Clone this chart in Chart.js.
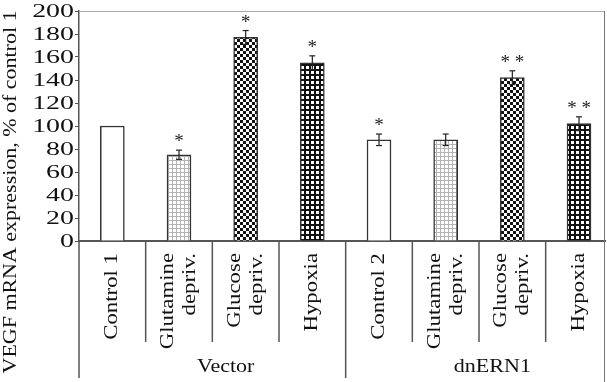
<!DOCTYPE html>
<html>
<head>
<meta charset="utf-8">
<script src="https://cdn.jsdelivr.net/npm/chart.js@4.4.0/dist/chart.umd.min.js"></script>
<style>
    html, body { margin: 0; padding: 0; background: #fff; overflow: hidden; }
    #wrap { width: 607px; height: 382px; }
</style>
</head>
<body>
<div id="wrap"><canvas id="vegfChart"></canvas></div>
<script>
const categories = [["Control 1"], ["Glutamine", "depriv."], ["Glucose", "depriv."], ["Hypoxia"],
                    ["Control 2"], ["Glutamine", "depriv."], ["Glucose", "depriv."], ["Hypoxia"]];
const groups = ["Vector", "dnERN1"];
const vegfValues = [100, 75, 177, 155, 88, 88, 142, 102];
const vegfErrors = [0, 4, 6, 6, 5, 5, 6, 6];
const significance = ["", "*", "*", "*", "*", "", "* *", "* *"];
const yTitle = "VEGF mRNA expression, % of control 1";

const serif = '"Liberation Serif", "Times New Roman", serif';
const fills = ["open", "grid", "checker", "dots"];

function makePattern(ctx, kind) {
    if (kind === "open") return "#ffffff";
    const c = document.createElement("canvas");
    const p = c.getContext("2d");
    if (kind === "grid") {
        c.width = c.height = 4;
        p.fillStyle = "#fff"; p.fillRect(0, 0, 4, 4);
        p.fillStyle = "#b4b4b4"; p.fillRect(0, 0, 4, 1); p.fillRect(0, 0, 1, 4);
    } else if (kind === "checker") {
        c.width = c.height = 6;
        p.fillStyle = "#fff"; p.fillRect(0, 0, 6, 6);
        p.fillStyle = "#111"; p.fillRect(0, 0, 3, 3); p.fillRect(3, 3, 3, 3);
    } else {
        c.width = c.height = 5;
        p.fillStyle = "#111"; p.fillRect(0, 0, 5, 5);
        p.fillStyle = "#fff"; p.fillRect(1, 1, 3, 3);
    }
    return ctx.createPattern(c, "repeat");
}

// text in the figure is wider than plain Times, so stretch it along its run
function stretchedText(ctx, text, x, y, stretch, upright) {
    ctx.save();
    ctx.translate(x, y);
    if (upright) ctx.rotate(-Math.PI / 2);
    ctx.scale(stretch, 1);
    ctx.fillText(text, 0, 0);
    ctx.restore();
}

function line(ctx, x1, y1, x2, y2) {
    ctx.beginPath(); ctx.moveTo(x1, y1); ctx.lineTo(x2, y2); ctx.stroke();
}

const figurePlugin = {
    id: "figure",
    afterDatasetsDraw(chart) {
        const { ctx } = chart;
        const y = chart.scales.y;
        const bars = chart.getDatasetMeta(0).data;
        ctx.save();
        ctx.strokeStyle = "#222";
        ctx.fillStyle = "#222";
        ctx.lineWidth = 1.2;
        bars.forEach((bar, i) => {
            const err = vegfErrors[i];
            const top = y.getPixelForValue(vegfValues[i] + err);
            if (err > 0) {
                const bottom = y.getPixelForValue(vegfValues[i] - err);
                line(ctx, bar.x, top, bar.x, bottom);
                line(ctx, bar.x - 3, top, bar.x + 3, top);
                line(ctx, bar.x - 3, bottom, bar.x + 3, bottom);
            }
            if (significance[i]) {
                ctx.font = "19px " + serif;
                ctx.textAlign = "center";
                ctx.textBaseline = "alphabetic";
                ctx.fillText(significance[i], bar.x, top - 3);
            }
        });
        ctx.restore();
    },
    afterDraw(chart) {
        const { ctx, chartArea: a } = chart;
        const x = chart.scales.x, y = chart.scales.y;
        ctx.save();

        // frame
        ctx.strokeStyle = "#aaa"; ctx.lineWidth = 1;
        line(ctx, a.left, a.top + 0.5, a.right, a.top + 0.5);
        ctx.strokeStyle = "#777";
        line(ctx, a.right - 0.5, a.top, a.right - 0.5, 382);
        ctx.strokeStyle = "#555"; ctx.lineWidth = 1.5;
        line(ctx, a.left, a.bottom, a.left, 378);
        for (let i = 0; i < categories.length - 1; i++) {
            const px = x.getPixelForValue(i + 0.5);
            line(ctx, px, a.bottom, px, i === 3 ? 378 : 342);
        }

        ctx.fillStyle = "#111";

        // y tick labels
        ctx.font = "18px " + serif;
        ctx.textAlign = "right";
        ctx.textBaseline = "middle";
        y.ticks.forEach(t => stretchedText(ctx, String(t.value), 74, y.getPixelForValue(t.value) + 1, 1.55, false));

        // y title
        ctx.textAlign = "center";
        stretchedText(ctx, yTitle, 11, 192, 1.22, true);

        // category labels, reading upward
        ctx.font = "19px " + serif;
        ctx.textAlign = "right";
        categories.forEach((lines, i) => {
            const cx = x.getPixelForValue(i);
            lines.forEach((txt, k) => {
                const off = lines.length === 1 ? 0 : (k === 0 ? -11 : 11);
                stretchedText(ctx, txt, cx + off, 253, 1.2, true);
            });
        });

        // group labels
        ctx.textAlign = "center";
        groups.forEach((g, k) => {
            stretchedText(ctx, g, x.getPixelForValue(k * 4 + 1.7), 367, 1.16, false);
        });
        ctx.restore();
    }
};

const ctx = document.getElementById("vegfChart").getContext("2d");

new Chart(ctx, {
    type: "bar",
    data: {
        datasets: [{
            data: vegfValues.map((v, i) => ({ x: i, y: v })),
            backgroundColor: c => makePattern(ctx, fills[c.dataIndex % 4]),
            borderColor: "#333",
            borderWidth: 1.5,
            barThickness: 24
        }]
    },
    options: {
        responsive: true,
        maintainAspectRatio: false,
        animation: false,
        layout: { padding: { top: 11, right: 2, left: 0, bottom: 0 } },
        scales: {
            x: {
                type: "linear",
                min: -0.5,
                max: 7.39,
                offset: false,
                ticks: { display: false },
                grid: { display: false },
                border: { display: true, color: "#555", width: 2 },
                afterFit: s => { s.height = 141; }
            },
            y: {
                min: 0,
                max: 200,
                ticks: { display: false, stepSize: 20 },
                grid: { drawOnChartArea: false, drawTicks: true, tickLength: 4, color: "#555" },
                border: { display: true, color: "#555", width: 1.5 },
                afterFit: s => { s.width = 79; }
            }
        },
        plugins: {
            legend: { display: false },
            tooltip: { enabled: false }
        }
    },
    plugins: [figurePlugin]
});
</script>
</body>
</html>
